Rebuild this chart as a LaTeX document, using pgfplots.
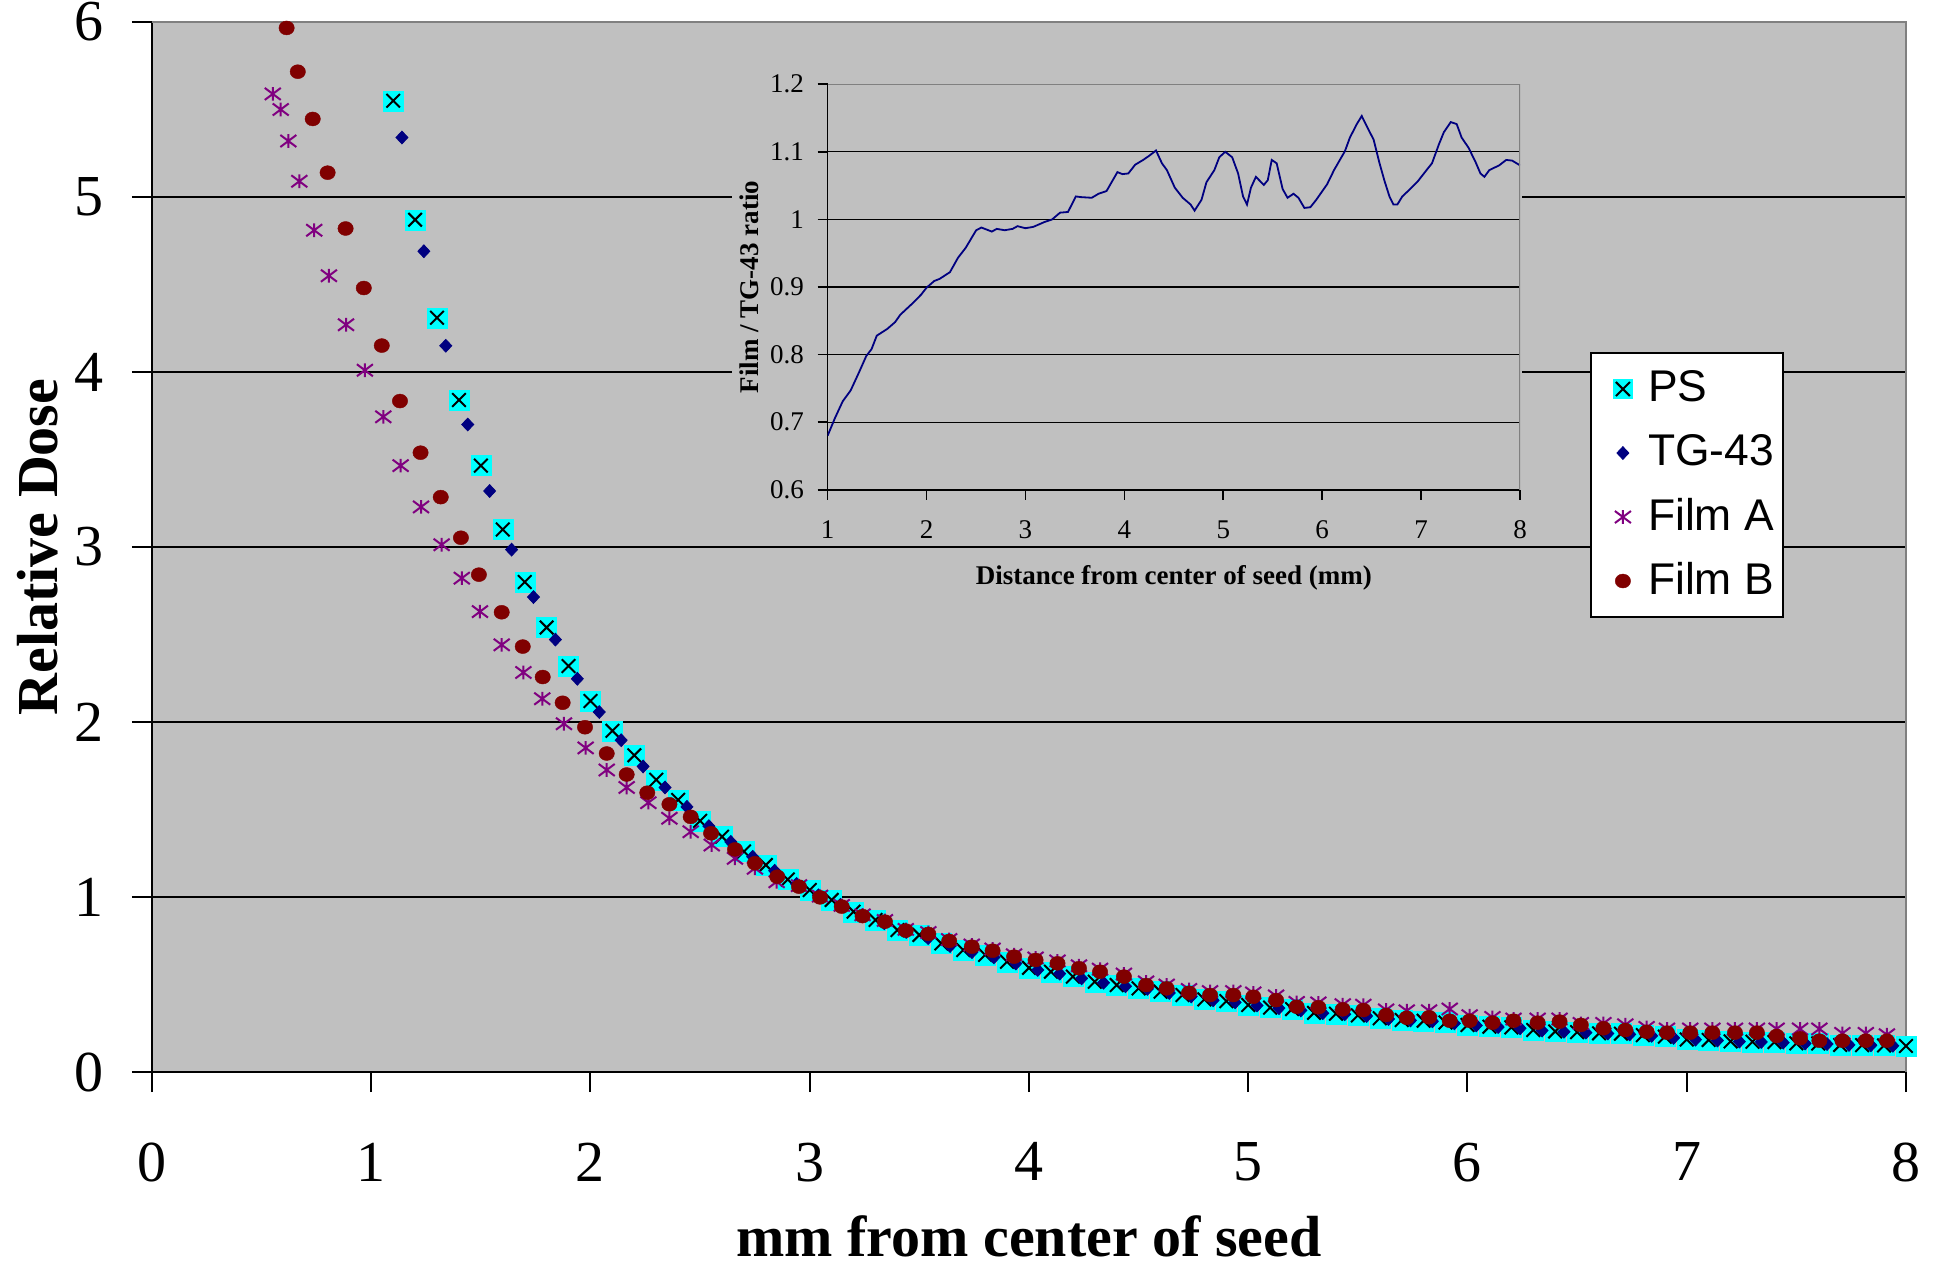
\documentclass[border=0pt]{standalone}
\usepackage{fontspec}
\setmainfont{Liberation Serif}
\newfontfamily\arial{Liberation Sans}
\usepackage{pgfplots}
\pgfplotsset{compat=1.18}
\definecolor{bg}{HTML}{C0C0C0}
\definecolor{bordergray}{HTML}{808080}
\definecolor{pscyan}{HTML}{00FFFF}
\definecolor{tgnavy}{HTML}{000080}
\definecolor{filmApurple}{HTML}{800080}
\definecolor{filmBred}{HTML}{800000}
\pgfdeclareplotmark{vstar}{%
  \pgfpathmoveto{\pgfqpoint{0pt}{0.85\pgfplotmarksize}}%
  \pgfpathlineto{\pgfqpoint{0pt}{-0.85\pgfplotmarksize}}%
  \pgfpathmoveto{\pgfqpoint{-\pgfplotmarksize}{-0.75\pgfplotmarksize}}%
  \pgfpathlineto{\pgfqpoint{\pgfplotmarksize}{0.75\pgfplotmarksize}}%
  \pgfpathmoveto{\pgfqpoint{-\pgfplotmarksize}{0.75\pgfplotmarksize}}%
  \pgfpathlineto{\pgfqpoint{\pgfplotmarksize}{-0.75\pgfplotmarksize}}%
  \pgfusepathqstroke}
\pgfplotsset{
  legimg/.style={legend image code/.code={\path[draw=none,fill=none] (-6pt,-8pt) rectangle (6pt,8pt); \draw[##1] plot coordinates {(0pt,0pt)};}},
}
\begin{document}
\begin{tikzpicture}
\useasboundingbox (0pt,0pt) rectangle (484.25pt,316.75pt);
\begin{axis}[
  at={(38pt,48.75pt)}, anchor=south west,
  scale only axis, width=438.5pt, height=262.5pt,
  xmin=0, xmax=8, ymin=0, ymax=6,
  xtick={0,1,...,8}, ytick={0,1,...,6},
  axis lines=left, axis line style={-,black,line width=0.5pt},
  tick align=outside, major tick length=5pt, tick style={black,line width=0.5pt},
  ymajorgrids, grid style={black,line width=0.35pt},
  axis background/.style={fill=bg},
  /pgf/number format/assume math mode=true,
  tick label style={font=\fontsize{14.5}{17}\selectfont},
  xticklabel style={anchor=north, inner sep=0pt, yshift=-12.5pt},
  yticklabel style={anchor=east, inner sep=0pt, xshift=-7pt},
  every axis x label/.style={at={(axis description cs:0.5,-0.176)}, anchor=base, inner sep=0pt},
  every axis y label/.style={at={(axis description cs:-0.0536,0.5)}, rotate=90, anchor=base},
  label style={font=\fontsize{14.5}{17}\selectfont\bfseries},
  xlabel={\raisebox{0pt}[\height][0pt]{mm from center of seed}}, ylabel={Relative Dose},
  clip=false,
  legend style={at={(0.8198,0.6857)}, anchor=north west, draw=black, fill=white, line width=0.5pt,
    font=\arial\fontsize{11.1}{13}\selectfont, inner xsep=2pt, inner ysep=1pt,
    nodes={inner xsep=0.3pt, inner ysep=1pt}, column sep=0pt, row sep=0pt},
  legend cell align=left,
]
% PS squares
\addplot[only marks, mark=square*, mark size=2.5pt, mark options={fill=pscyan, draw=pscyan, line width=0.1pt},
  legend image code/.code={\path[draw=none,fill=none] (-6pt,-8pt) rectangle (6pt,8pt); \fill[pscyan] (-2.3pt,-2.3pt) rectangle (2.3pt,2.3pt); \draw[black,line width=0.5pt] (-1.75pt,-1.75pt) -- (1.75pt,1.75pt) (-1.75pt,1.75pt) -- (1.75pt,-1.75pt);}]
  table {
x y
1.1 5.55
1.2 4.87
1.3 4.31
1.4 3.84
1.5 3.465
1.6 3.10
1.7 2.80
1.8 2.54
1.9 2.32
2.0 2.12
2.1 1.95
2.2 1.81
2.3 1.67
2.4 1.555
2.5 1.435
2.6 1.345
2.7 1.26
2.8 1.183
2.9 1.10
3.0 1.04
3.1 0.983
3.2 0.916
3.3 0.869
3.4 0.811
3.5 0.783
3.6 0.735
3.7 0.697
3.8 0.669
3.9 0.63
4.0 0.595
4.1 0.573
4.2 0.545
4.3 0.516
4.4 0.497
4.5 0.478
4.6 0.459
4.7 0.44
4.8 0.415
4.9 0.405
5.0 0.383
5.1 0.368
5.2 0.360
5.3 0.338
5.4 0.333
5.5 0.324
5.6 0.307
5.7 0.297
5.8 0.293
5.9 0.283
6.0 0.269
6.1 0.259
6.2 0.255
6.3 0.24
6.4 0.232
6.5 0.228
6.6 0.221
6.7 0.219
6.8 0.211
6.9 0.202
7.0 0.186
7.1 0.183
7.2 0.175
7.3 0.173
7.4 0.171
7.5 0.164
7.6 0.163
7.7 0.155
7.8 0.154
7.9 0.152
8.0 0.149
};
\addlegendentry{PS}
% PS crosses
\addplot[forget plot, only marks, mark=x, mark size=2.4pt, mark options={black, line width=0.5pt}]
  table {
x y
1.1 5.55
1.2 4.87
1.3 4.31
1.4 3.84
1.5 3.465
1.6 3.10
1.7 2.80
1.8 2.54
1.9 2.32
2.0 2.12
2.1 1.95
2.2 1.81
2.3 1.67
2.4 1.555
2.5 1.435
2.6 1.345
2.7 1.26
2.8 1.183
2.9 1.10
3.0 1.04
3.1 0.983
3.2 0.916
3.3 0.869
3.4 0.811
3.5 0.783
3.6 0.735
3.7 0.697
3.8 0.669
3.9 0.63
4.0 0.595
4.1 0.573
4.2 0.545
4.3 0.516
4.4 0.497
4.5 0.478
4.6 0.459
4.7 0.44
4.8 0.415
4.9 0.405
5.0 0.383
5.1 0.368
5.2 0.360
5.3 0.338
5.4 0.333
5.5 0.324
5.6 0.307
5.7 0.297
5.8 0.293
5.9 0.283
6.0 0.269
6.1 0.259
6.2 0.255
6.3 0.24
6.4 0.232
6.5 0.228
6.6 0.221
6.7 0.219
6.8 0.211
6.9 0.202
7.0 0.186
7.1 0.183
7.2 0.175
7.3 0.173
7.4 0.171
7.5 0.164
7.6 0.163
7.7 0.155
7.8 0.154
7.9 0.152
8.0 0.149
};
% TG-43
\addplot[only marks, mark=diamond*, mark size=2pt, mark options={fill=tgnavy, draw=tgnavy, line width=0.2pt, yscale=0.8}, legimg]
  table {
x y
1.14 5.34
1.24 4.69
1.34 4.15
1.44 3.70
1.54 3.32
1.64 2.985
1.74 2.714
1.84 2.471
1.94 2.247
2.04 2.057
2.14 1.896
2.24 1.746
2.34 1.626
2.44 1.515
2.54 1.405
2.64 1.315
2.74 1.23
2.84 1.15
2.94 1.075
3.04 1.01
3.14 0.955
3.24 0.895
3.34 0.85
3.44 0.80
3.54 0.765
3.64 0.72
3.74 0.685
3.84 0.655
3.94 0.62
4.04 0.583
4.14 0.562
4.24 0.535
4.34 0.51
4.44 0.49
4.54 0.475
4.64 0.452
4.74 0.432
4.84 0.41
4.94 0.398
5.04 0.380
5.14 0.365
5.24 0.352
5.34 0.336
5.44 0.33
5.54 0.32
5.64 0.303
5.74 0.295
5.84 0.29
5.94 0.278
6.04 0.266
6.14 0.257
6.24 0.25
6.34 0.237
6.44 0.23
6.54 0.225
6.64 0.22
6.74 0.215
6.84 0.207
6.94 0.195
7.04 0.185
7.14 0.18
7.24 0.174
7.34 0.172
7.44 0.168
7.54 0.163
7.64 0.16
7.74 0.155
7.84 0.153
7.94 0.15
};
\addlegendentry{TG-43}
% Film A
\addplot[only marks, mark=vstar, mark size=2pt, mark options={draw=filmApurple, line width=0.5pt}, legimg]
  table {
x y
0.551 5.589
0.587 5.50
0.622 5.32
0.672 5.09
0.74 4.81
0.807 4.55
0.885 4.27
0.971 4.01
1.055 3.744
1.134 3.465
1.227 3.229
1.321 3.013
1.413 2.822
1.496 2.631
1.595 2.441
1.694 2.283
1.78 2.133
1.879 1.99
1.978 1.852
2.074 1.726
2.165 1.626
2.264 1.539
2.36 1.45
2.457 1.373
2.553 1.297
2.659 1.221
2.75 1.164
2.849 1.087
2.951 1.065
3.047 1.005
3.146 0.952
3.241 0.898
3.343 0.866
3.438 0.815
3.541 0.797
3.636 0.757
3.739 0.726
3.834 0.703
3.932 0.67
4.03 0.652
4.13 0.635
4.228 0.607
4.324 0.588
4.433 0.56
4.534 0.515
4.628 0.497
4.73 0.472
4.826 0.46
4.932 0.46
5.023 0.452
5.127 0.435
5.221 0.398
5.32 0.395
5.431 0.385
5.525 0.382
5.629 0.355
5.723 0.35
5.825 0.35
5.919 0.36
6.01 0.322
6.114 0.312
6.21 0.303
6.32 0.303
6.42 0.303
6.517 0.278
6.62 0.278
6.72 0.27
6.817 0.255
6.91 0.246
7.016 0.246
7.117 0.246
7.22 0.246
7.32 0.246
7.41 0.246
7.517 0.246
7.605 0.246
7.71 0.221
7.817 0.221
7.913 0.213
};
\addlegendentry{Film A}
% Film B
\addplot[only marks, mark=*, mark size=1.75pt, mark options={fill=filmBred, draw=filmBred, line width=0.1pt, xscale=1.1}, legimg]
  table {
x y
0.614 5.966
0.665 5.716
0.733 5.446
0.801 5.139
0.883 4.82
0.966 4.48
1.048 4.151
1.131 3.834
1.225 3.539
1.317 3.285
1.409 3.053
1.491 2.842
1.595 2.627
1.691 2.431
1.782 2.257
1.873 2.11
1.975 1.97
2.074 1.82
2.165 1.70
2.259 1.596
2.36 1.53
2.457 1.458
2.55 1.364
2.659 1.272
2.75 1.193
2.852 1.116
2.951 1.059
3.047 0.998
3.146 0.945
3.241 0.891
3.343 0.859
3.438 0.808
3.541 0.789
3.636 0.749
3.739 0.716
3.834 0.693
3.932 0.659
4.03 0.64
4.13 0.621
4.228 0.593
4.324 0.573
4.433 0.545
4.534 0.497
4.628 0.478
4.73 0.453
4.826 0.44
4.932 0.44
5.023 0.43
5.127 0.411
5.221 0.373
5.32 0.37
5.431 0.358
5.525 0.354
5.629 0.326
5.723 0.31
5.825 0.313
5.919 0.293
6.01 0.293
6.114 0.282
6.21 0.293
6.32 0.282
6.42 0.288
6.517 0.269
6.62 0.25
6.72 0.24
6.817 0.23
6.91 0.225
7.016 0.225
7.117 0.225
7.22 0.225
7.32 0.225
7.41 0.206
7.517 0.193
7.605 0.179
7.71 0.179
7.817 0.179
7.913 0.179
};
\addlegendentry{Film B}
\draw[bordergray, line width=0.5pt] (rel axis cs:0,1) -- (rel axis cs:1,1) -- (rel axis cs:1,0);
\end{axis}
% inset chart area (covers the main grid lines)
\fill[bg] (183pt,181.25pt) rectangle (380.5pt,306.75pt);
\begin{axis}[
  at={(206.9pt,194.3pt)}, anchor=south west,
  scale only axis, width=173.1pt, height=101.4pt,
  xmin=1, xmax=8, ymin=0.6, ymax=1.2,
  xtick={1,2,...,8}, ytick={0.6,0.7,0.8,0.9,1,1.1,1.2},
  yticklabels={0.6,0.7,0.8,0.9,1,1.1,1.2},
  axis lines=left, axis line style={-,black,line width=0.4pt},
  tick align=outside, major tick length=2.5pt, tick style={black,line width=0.4pt},
  ymajorgrids, grid style={black,line width=0.3pt},
  /pgf/number format/assume math mode=true,
  tick label style={font=\fontsize{6.75}{8}\selectfont},
  xticklabel style={anchor=north, inner sep=0pt, yshift=-5pt},
  yticklabel style={anchor=east, inner sep=0pt, xshift=-3.25pt},
  every axis x label/.style={at={(axis description cs:0.5,-0.2347)}, anchor=base},
  every axis y label/.style={at={(axis description cs:-0.0994,0.5)}, rotate=90, anchor=base},
  label style={font=\fontsize{6.75}{8}\selectfont\bfseries},
  xlabel={Distance from center of seed (mm)}, ylabel={Film / TG-43 ratio},
]
\addplot[tgnavy, line width=0.45pt] coordinates {
(1.000,0.680) (1.074,0.706) (1.153,0.731) (1.233,0.747) (1.312,0.772) (1.391,0.798)
(1.444,0.808) (1.497,0.828) (1.603,0.838) (1.682,0.848) (1.735,0.859) (1.867,0.877)
(1.947,0.889) (2.000,0.899) (2.079,0.909) (2.132,0.912) (2.237,0.922) (2.317,0.943)
(2.396,0.958) (2.502,0.984) (2.555,0.988) (2.660,0.982) (2.710,0.986) (2.790,0.984)
(2.870,0.986) (2.920,0.990) (3.000,0.987) (3.080,0.989) (3.190,0.996) (3.270,1.000)
(3.350,1.010) (3.430,1.011) (3.510,1.034) (3.560,1.033) (3.670,1.032) (3.740,1.038)
(3.820,1.042) (3.930,1.070) (3.980,1.067) (4.040,1.068) (4.110,1.081) (4.190,1.088)
(4.250,1.094) (4.320,1.102) (4.380,1.083) (4.430,1.073) (4.510,1.047) (4.590,1.032)
(4.670,1.022) (4.710,1.013) (4.780,1.029) (4.830,1.055) (4.910,1.073) (4.960,1.092)
(5.020,1.100) (5.090,1.092) (5.150,1.068) (5.200,1.034) (5.240,1.022) (5.280,1.047)
(5.330,1.063) (5.410,1.051) (5.450,1.058) (5.490,1.088) (5.540,1.083) (5.600,1.045)
(5.650,1.032) (5.710,1.038) (5.760,1.032) (5.820,1.017) (5.880,1.018) (5.940,1.029)
(6.050,1.052) (6.120,1.073) (6.230,1.101) (6.280,1.121) (6.350,1.141) (6.400,1.153)
(6.440,1.141) (6.520,1.118) (6.580,1.083) (6.630,1.057) (6.680,1.034) (6.720,1.022)
(6.760,1.022) (6.810,1.034) (6.890,1.045) (6.970,1.057) (7.050,1.072) (7.110,1.083)
(7.180,1.111) (7.230,1.129) (7.300,1.144) (7.360,1.141) (7.410,1.121) (7.480,1.106)
(7.550,1.085) (7.600,1.068) (7.640,1.063) (7.690,1.073) (7.790,1.080) (7.860,1.088)
(7.920,1.087) (8.000,1.080)
};
\draw[bordergray, line width=0.5pt] (rel axis cs:0,1) -- (rel axis cs:1,1) -- (rel axis cs:1,0);
\end{axis}
\end{tikzpicture}
\end{document}
